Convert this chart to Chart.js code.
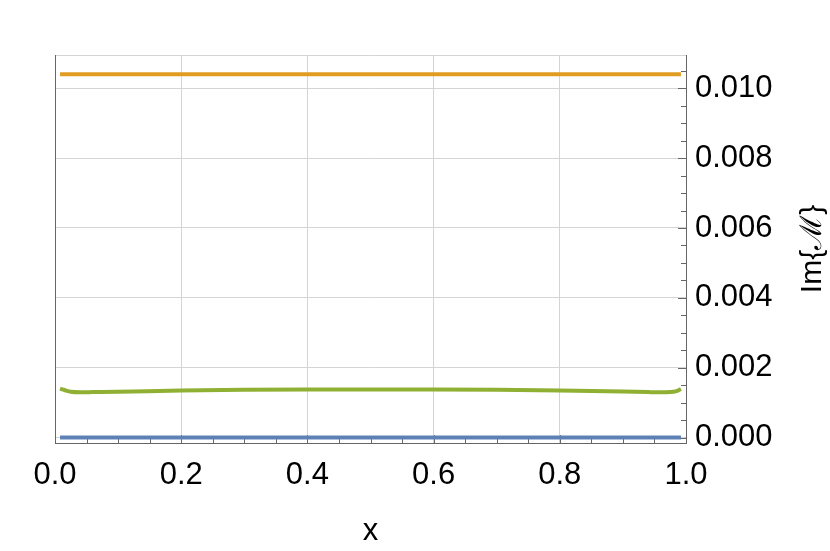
<!DOCTYPE html>
<html>
<head>
<meta charset="utf-8">
<script src="https://cdn.jsdelivr.net/npm/chart.js@4"></script>
<style>
html,body{margin:0;padding:0;background:#fff;}
#wrap{width:830px;height:551px;position:relative;}
</style>
</head>
<body>
<div id="wrap"><canvas id="c"></canvas></div>
<script>
// ---- data ----
const xTicks = [0.0, 0.2, 0.4, 0.6, 0.8, 1.0];
const yTicks = [0.000, 0.002, 0.004, 0.006, 0.008, 0.010];
const xMinorTicks = [0.05,0.1,0.15,0.25,0.3,0.35,0.45,0.5,0.55,0.65,0.7,0.75,0.85,0.9,0.95];
const yMinorTicks = [0.0005,0.001,0.0015,0.0025,0.003,0.0035,0.0045,0.005,0.0055,0.0065,0.007,0.0075,0.0085,0.009,0.0095,0.0105];
const xValues = [0.008,0.015,0.025,0.04,0.06,0.1,0.2,0.3,0.4,0.5,0.6,0.7,0.8,0.9,0.94,0.96,0.975,0.985,0.992];
const blueValues = [0,0,0,0,0,0,0,0,0,0,0,0,0,0,0,0,0,0,0];
const orangeValues = [0.0104,0.0104,0.0104,0.0104,0.0104,0.0104,0.0104,0.0104,0.0104,0.0104,0.0104,0.0104,0.0104,0.0104,0.0104,0.0104,0.0104,0.0104,0.0104];
const greenValues = [0.00140,0.00136,0.00131,0.001295,0.00130,0.00131,0.001345,0.001365,0.001375,0.001378,0.001375,0.001365,0.001345,0.001315,0.00130,0.001295,0.00130,0.00133,0.00139];
const xTitle = 'x';
const yTitle = 'Im{ℳ}';
const yMin = -0.000157, yMax = 0.010954;

const FONT = '"Liberation Sans", Arial, Helvetica, sans-serif';
const toPts = ys => xValues.map((x,i)=>({x:x,y:ys[i]}));

const decor = {
  id:'decor',
  beforeDatasetsDraw(chart){
    const {ctx, chartArea:a, scales:{x,y}} = chart;
    ctx.save();
    ctx.strokeStyle = '#d4d4d4'; ctx.lineWidth = 1;
    ctx.beginPath(); ctx.moveTo(a.left, a.top+0.5); ctx.lineTo(a.right, a.top+0.5); ctx.stroke();
    ctx.strokeStyle = '#666'; ctx.lineWidth = 1;
    ctx.beginPath(); ctx.moveTo(a.left+0.5, a.top); ctx.lineTo(a.left+0.5, a.bottom); ctx.stroke();
    ctx.beginPath();
    xMinorTicks.forEach(v=>{const p=Math.round(x.getPixelForValue(v))+0.5; ctx.moveTo(p,a.bottom); ctx.lineTo(p,a.bottom-5);});
    xTicks.forEach(v=>{const p=Math.round(x.getPixelForValue(v))+0.5; ctx.moveTo(p,a.bottom); ctx.lineTo(p,a.bottom-8);});
    yMinorTicks.forEach(v=>{const p=Math.round(y.getPixelForValue(v))+0.5; ctx.moveTo(a.right,p); ctx.lineTo(a.right-5,p);});
    yTicks.forEach(v=>{const p=Math.round(y.getPixelForValue(v))+0.5; ctx.moveTo(a.right,p); ctx.lineTo(a.right-8,p);});
    ctx.stroke();
    ctx.restore();
  },
  afterDraw(chart){
    const {ctx, chartArea:a} = chart;
    ctx.save();
    ctx.fillStyle = '#000';
    ctx.font = '31px ' + FONT;
    ctx.textAlign = 'center';
    ctx.textBaseline = 'alphabetic';
    ctx.fillText(xTitle, (a.left+a.right)/2, 540);
    ctx.translate(821, (a.top+a.bottom)/2);
    ctx.rotate(-Math.PI/2);
    ctx.font = '30px ' + FONT;
    ctx.fillText(yTitle, 0, 0);
    ctx.restore();
  }
};

new Chart(document.getElementById('c'), {
  type:'line',
  data:{datasets:[
    {data:toPts(blueValues), borderColor:'#5E81B5', borderWidth:4, pointRadius:0, tension:0, fill:false},
    {data:toPts(orangeValues), borderColor:'#E19C24', borderWidth:4, pointRadius:0, tension:0, fill:false},
    {data:toPts(greenValues), borderColor:'#8FB032', borderWidth:4, pointRadius:0, cubicInterpolationMode:'monotone', fill:false}
  ]},
  options:{
    responsive:true, maintainAspectRatio:false, animation:false,
    layout:{padding:{left:55, top:55, right:0, bottom:0}},
    plugins:{legend:{display:false}, tooltip:{enabled:false}},
    scales:{
      x:{type:'linear', position:'bottom', min:0, max:1,
        afterBuildTicks:s=>{s.ticks = xTicks.map(v=>({value:v}));},
        afterFit:s=>{s.height = 108;},
        ticks:{callback:v=>Number(v).toFixed(1), color:'#000', font:{family:FONT, size:31}, padding:14, maxRotation:0, autoSkip:false},
        grid:{color:'#d4d4d4', lineWidth:1, drawTicks:false},
        border:{display:true, color:'#666', width:1}
      },
      y:{type:'linear', position:'right', min:yMin, max:yMax,
        afterBuildTicks:s=>{s.ticks = yTicks.map(v=>({value:v}));},
        afterFit:s=>{s.width = 144;},
        ticks:{callback:v=>Number(v).toFixed(3), color:'#000', font:{family:FONT, size:31}, padding:9, autoSkip:false},
        grid:{color:'#d4d4d4', lineWidth:1, drawTicks:false},
        border:{display:true, color:'#666', width:1}
      }
    }
  },
  plugins:[decor]
});
</script>
</body>
</html>
